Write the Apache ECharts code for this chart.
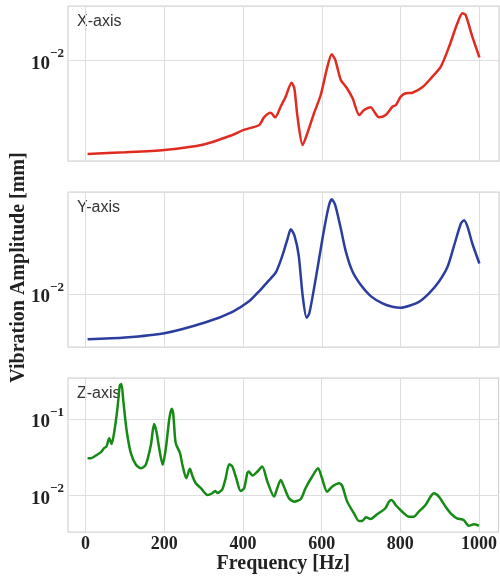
<!DOCTYPE html>
<html>
<head>
<meta charset="utf-8">
<script src="https://cdn.jsdelivr.net/npm/echarts@6/dist/echarts.min.js"></script>
<style>
html,body{margin:0;padding:0;background:#fff;}
#chart{width:500px;height:577px;}
</style>
</head>
<body>
<div id="chart"></div>
<script>
const xTicks = [0, 200, 400, 600, 800, 1000];
const panelNames = ['X-axis', 'Y-axis', 'Z-axis'];

const freqX = [5,100,200,300,372,400,441,453,470,481,496,508,523,530,538,551,563,580,597,614,625,634,648,662,678,695,707,724,733,745,762,779,788,800,813,830,855,877,902,923,944,957,965,982,1000];
const ampX = [0.00166,0.00171,0.00179,0.00199,0.00238,0.00262,0.00289,0.00335,0.00366,0.00335,0.00416,0.00497,0.00651,0.00584,0.00339,0.00197,0.00246,0.00362,0.00514,0.00885,0.01122,0.01006,0.00686,0.00596,0.00482,0.0035,0.00385,0.00406,0.00373,0.00335,0.0035,0.0041,0.00424,0.00497,0.00531,0.00537,0.00596,0.00708,0.00885,0.01298,0.02033,0.02464,0.02385,0.01573,0.01059];

const freqY = [5,100,200,305,373,415,441,462,483,500,513,521,530,541,551,561,568,580,593,606,618,625,634,648,661,678,699,724,754,779,800,822,847,872,897,919,936,953,961,970,982,1000];
const ampY = [0.00417,0.00431,0.00468,0.00578,0.00708,0.00866,0.01053,0.01259,0.01508,0.02102,0.02895,0.0346,0.03084,0.02102,0.00975,0.00631,0.00687,0.01109,0.01972,0.03508,0.05483,0.06152,0.05483,0.03508,0.02239,0.01526,0.01182,0.00957,0.00832,0.00779,0.00764,0.00794,0.00858,0.01008,0.01259,0.01679,0.02545,0.03861,0.04112,0.03617,0.0263,0.01792];

const freqZ = [5,14,26,39,47,53,60,66,73,81,87,91,96,104,115,128,141,153,166,174,180,187,196,204,213,219,223,229,240,246,256,265,272,280,293,310,322,329,335,341,348,356,365,373,383,394,403,411,415,424,437,449,462,479,487,496,504,517,530,547,559,576,591,601,614,627,644,652,665,682,695,703,713,724,741,762,771,778,788,805,822,834,847,864,877,885,898,915,932,944,961,974,987,1000];
const ampZ = [0.0307,0.0307,0.0332,0.0368,0.0415,0.0436,0.0562,0.0469,0.0687,0.1396,0.2767,0.2888,0.1706,0.0723,0.0357,0.0251,0.0226,0.0251,0.0459,0.0859,0.0687,0.0415,0.0251,0.0415,0.1031,0.1366,0.1139,0.0483,0.0357,0.0251,0.0167,0.0222,0.0176,0.0144,0.01236,0.01009,0.01062,0.0114,0.01072,0.01113,0.0121,0.0167,0.0256,0.0238,0.0167,0.0114,0.01236,0.0195,0.0205,0.0181,0.0205,0.0238,0.0151,0.0096,0.01236,0.0159,0.013,0.00914,0.00824,0.00893,0.01236,0.0176,0.0226,0.0167,0.01113,0.013,0.0144,0.01337,0.00824,0.0058,0.00459,0.00459,0.00514,0.00488,0.00562,0.00675,0.00824,0.00867,0.00745,0.00608,0.00522,0.00522,0.00608,0.00745,0.0096,0.01062,0.0096,0.00708,0.00551,0.00498,0.00473,0.00398,0.00415,0.00398];

const colors = ['#e02b20', '#2b3d9e', '#158a15'];
const yRanges = [[0.001448, 0.02835], [0.003596, 0.07079], [0.00329, 0.3462]];
const grids = [
  {left: 68, top: 6, width: 431, height: 155},
  {left: 68, top: 192, width: 431, height: 155},
  {left: 68, top: 378, width: 431, height: 154}
];

function pairs(xs, ys) { return xs.map((x, i) => [x, ys[i]]); }
const seriesData = [pairs(freqX, ampX), pairs(freqY, ampY), pairs(freqZ, ampZ)];

const serif = 'Liberation Serif';
function logFormatter(v) {
  const l = Math.log10(v);
  const e = Math.round(l);
  if (Math.abs(l - e) > 1e-6) return '';
  return '{b|10}{s|' + (e < 0 ? '\u2212' + (-e) : e) + '}';
}

const option = {
  animation: false,
  backgroundColor: '#fff',
  grid: grids.map(g => Object.assign({show: true, borderColor: '#d2d2d2', borderWidth: 1.2, backgroundColor: '#fff', containLabel: false}, g)),
  xAxis: grids.map((g, i) => ({
    type: 'value', gridIndex: i, min: -44.75, max: 1049.75,
    axisLine: {show: false},
    axisTick: {show: false, customValues: xTicks},
    axisLabel: {show: i === 2, customValues: xTicks, margin: 3, fontFamily: serif, fontWeight: 'bold', fontSize: 18, color: '#222',
      formatter: v => String(Math.round(v))},
    splitLine: {show: true, lineStyle: {color: '#dedede', width: 1}},
    name: i === 2 ? 'Frequency [Hz]' : '',
    nameLocation: 'middle', nameGap: 21,
    nameTextStyle: {fontFamily: serif, fontWeight: 'bold', fontSize: 20, color: '#222'}
  })),
  yAxis: grids.map((g, i) => ({
    type: 'log', gridIndex: i, logBase: 10, min: yRanges[i][0], max: yRanges[i][1],
    axisLine: {show: false},
    axisTick: {show: false},
    splitLine: {show: true, lineStyle: {color: '#dedede', width: 1}},
    axisLabel: {
      margin: 4, showMinLabel: false, showMaxLabel: false,
      formatter: logFormatter,
      rich: {
        b: {fontFamily: serif, fontWeight: 'bold', fontSize: 19, color: '#222', lineHeight: 26, verticalAlign: 'bottom'},
        s: {fontFamily: serif, fontWeight: 'bold', fontSize: 13, color: '#222', lineHeight: 13, verticalAlign: 'top'}
      }
    }
  })),
  series: seriesData.map((d, i) => ({
    type: 'line', xAxisIndex: i, yAxisIndex: i, data: d,
    showSymbol: false, smooth: 0.25,
    lineStyle: {color: colors[i], width: 2.5},
    itemStyle: {color: colors[i]}
  })),
  graphic: [
    ...grids.map((g, i) => ({
      type: 'text', left: 77, top: g.top + 8, silent: true,
      style: {text: panelNames[i], font: '16px "Liberation Sans"', fill: '#333'}
    })),
    {
      type: 'text', x: 19, y: 267.5, rotation: Math.PI / 2, silent: true,
      style: {text: 'Vibration Amplitude [mm]', font: 'bold 20px "Liberation Serif"', fill: '#222', textAlign: 'center', textVerticalAlign: 'middle'}
    }
  ]
};

const chart = echarts.init(document.getElementById('chart'), null, {renderer: 'canvas'});
chart.setOption(option);
</script>
</body>
</html>
